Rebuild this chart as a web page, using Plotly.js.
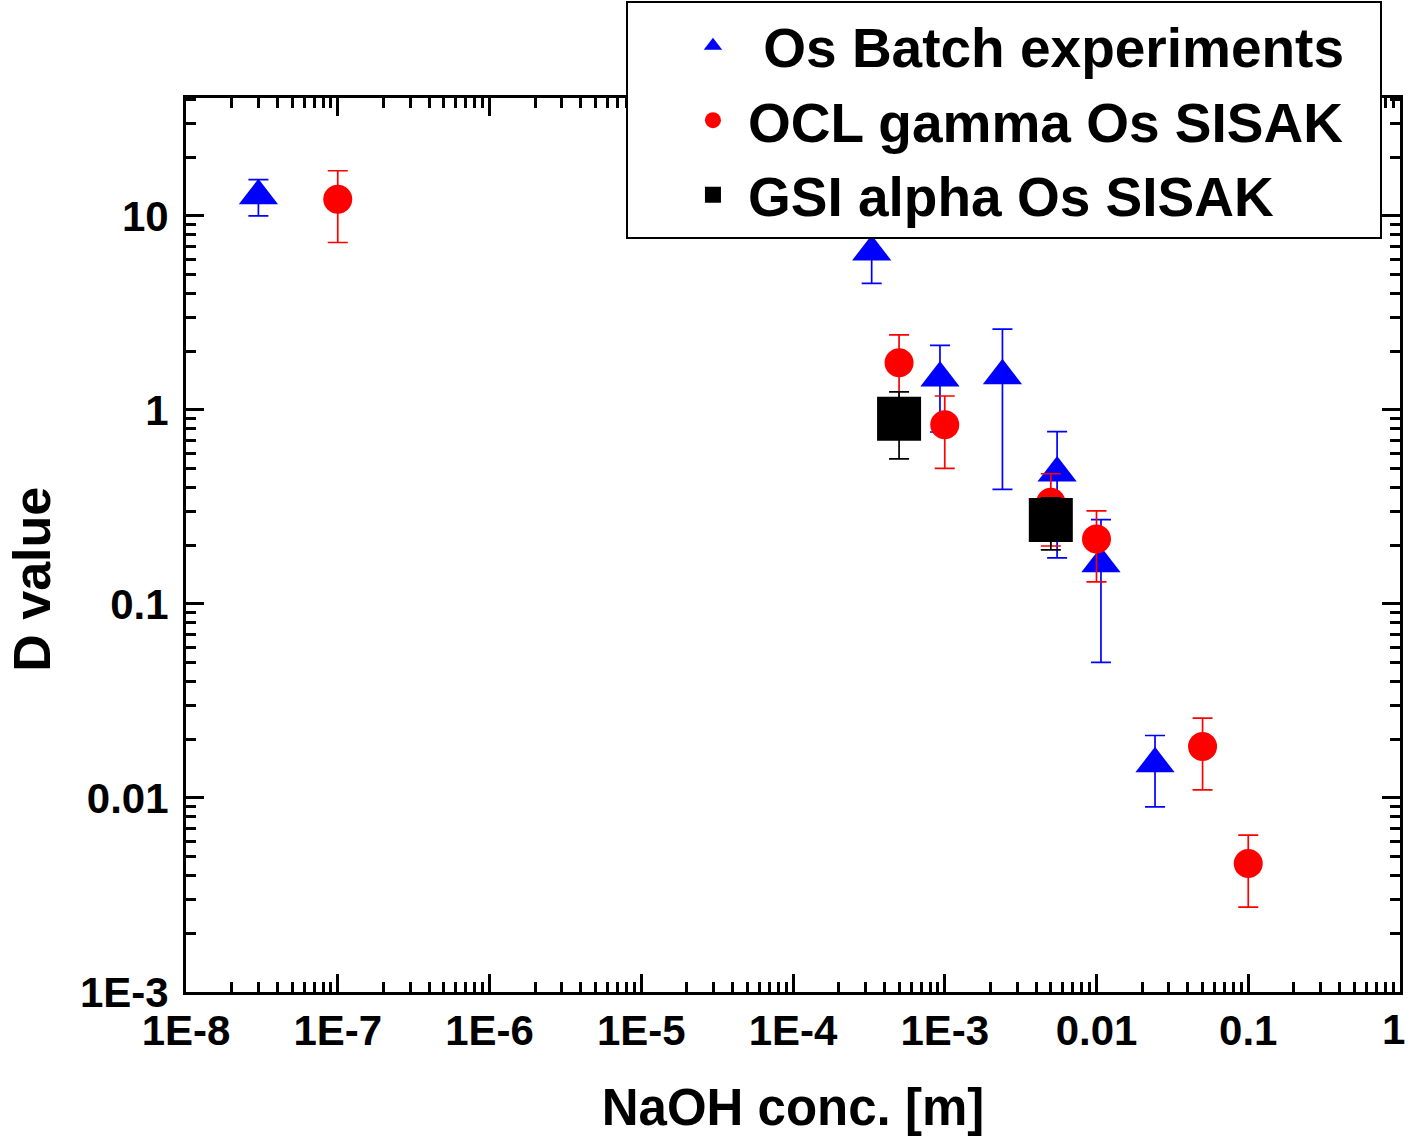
<!DOCTYPE html>
<html><head><meta charset="utf-8">
<script src="https://cdn.plot.ly/plotly-3.0.1.min.js"></script>
<style>html,body{margin:0;padding:0;background:#fff}</style>
</head><body>
<div id="chart" style="width:1409px;height:1141px"></div>
<script>
// Os Batch experiments (blue triangles)
const batchX = [3.0e-8, 3.3e-4, 9.3e-4, 2.4e-3, 5.5e-3, 0.0107, 0.0243];
const batchD = [12.7, 6.52, 1.46, 1.50, 0.473, 0.161, 0.0150];
const batchErr = [2.7, 2.03, 0.69, 1.11, 0.30, 0.111, 0.0060];

// OCL gamma Os SISAK (red circles)
const oclX = [1e-7, 5e-4, 1e-3, 5e-3, 0.01, 0.05, 0.1];
const oclD = [12.2, 1.75, 0.84, 0.334, 0.216, 0.0184, 0.00459];
const oclErr = [4.9, 0.69, 0.34, 0.135, 0.086, 0.0074, 0.00185];

// GSI alpha Os SISAK (black squares)
const gsiX = [5e-4, 5e-3];
const gsiD = [0.90, 0.271];
const gsiErr = [0.34, 0.081];

const xTickVals = [1e-8, 1e-7, 1e-6, 1e-5, 1e-4, 1e-3, 0.01, 0.1, 1];
const xTickText = ['1E-8', '1E-7', '1E-6', '1E-5', '1E-4', '1E-3', '0.01', '0.1', '1'];
const yTickVals = [1e-3, 0.01, 0.1, 1, 10];
const yTickText = ['1E-3', '0.01', '0.1', '1', '10'];

const FONT = 'Liberation Sans, Arial, Helvetica, sans-serif';

function errBar(arr, color) {
  return {type: 'data', array: arr, symmetric: true, visible: true,
          color: color, thickness: 1.7, width: 10};
}

const traces = [
  {x: batchX, y: batchD, type: 'scatter', mode: 'markers', name: '\u00a0Os Batch experiments\u00a0\u00a0',
   marker: {symbol: 'triangle-up', size: 34, color: '#0000ff'},
   error_y: errBar(batchErr, '#0000ff')},
  {x: oclX, y: oclD, type: 'scatter', mode: 'markers', name: 'OCL gamma Os SISAK',
   marker: {symbol: 'circle', size: 29, color: '#ff0000'},
   error_y: errBar(oclErr, '#ff0000')},
  {x: gsiX, y: gsiD, type: 'scatter', mode: 'markers', name: 'GSI alpha Os SISAK',
   marker: {symbol: 'square', size: 44, color: '#000000'},
   error_y: errBar(gsiErr, '#000000')}
];

// The last x tick label sits at the very right edge; draw it as a right-anchored label so it is not clipped
const lastIdx = xTickText.length - 1;
const xTickTextShown = xTickText.map((t, i) => i === lastIdx ? '' : t);

const axisCommon = {
  type: 'log', showgrid: false, zeroline: false,
  showline: true, linewidth: 3, linecolor: '#000', mirror: 'ticks',
  ticks: 'inside', ticklen: 18, tickwidth: 3, tickcolor: '#000',
  minor: {ticks: 'inside', ticklen: 10, tickwidth: 3, tickcolor: '#000', dtick: 'D1', showgrid: false},
  tickfont: {family: FONT, size: 42, color: '#000', weight: 'bold'},
  automargin: false
};

const layout = {
  width: 1409, height: 1141,
  margin: {l: 186, r: 9, t: 98, b: 149, autoexpand: false},
  paper_bgcolor: '#fff', plot_bgcolor: '#fff',
  showlegend: true,
  xaxis: Object.assign({}, axisCommon, {
    range: [-8, 0], tickmode: 'array', tickvals: xTickVals, ticktext: xTickTextShown,
    title: {text: 'NaOH conc. [m]', font: {family: FONT, size: 51, color: '#000', weight: 'bold'}, standoff: 36}
  }),
  yaxis: Object.assign({}, axisCommon, {
    range: [-3, 1.608], tickmode: 'array', tickvals: yTickVals, ticktext: yTickText,
    ticklabelstandoff: 6
  }),
  annotations: [{
    text: 'D value', xref: 'paper', yref: 'paper', x: -0.127, y: 0.462,
    xanchor: 'center', yanchor: 'middle', textangle: -90, showarrow: false,
    font: {family: FONT, size: 52, color: '#000', weight: 'bold'}
  }, {
    text: xTickText[lastIdx], xref: 'x', yref: 'paper', x: Math.log10(xTickVals[lastIdx]), y: -0.0425,
    xanchor: 'right', yanchor: 'middle', xshift: 7, showarrow: false,
    font: {family: FONT, size: 42, color: '#000', weight: 'bold'}
  }],
  legend: {
    x: 0.3624, y: 1.108, xanchor: 'left', yanchor: 'top',
    bgcolor: '#fff', bordercolor: '#000', borderwidth: 2,
    font: {family: FONT, size: 55, color: '#000', weight: 'bold'},
    indentation: 50, itemwidth: 60, tracegroupgap: 0
  }
};

Plotly.newPlot('chart', traces, layout, {displayModeBar: false, staticPlot: true});
</script>
</body></html>
